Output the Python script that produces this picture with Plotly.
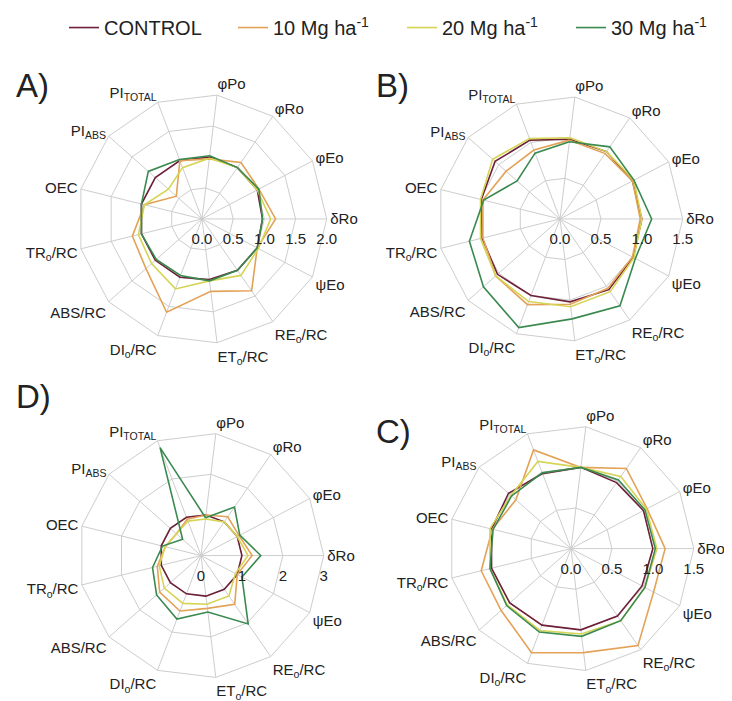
import plotly.graph_objects as go

categories = ["φPo", "φRo", "φEo", "δRo", "ψEo", "RE<sub>o</sub>/RC", "ET<sub>o</sub>/RC",
              "DI<sub>o</sub>/RC", "ABS/RC", "TR<sub>o</sub>/RC", "OEC", "PI<sub>ABS</sub>",
              "PI<sub>TOTAL</sub>"]
series_names = ["CONTROL", "10 Mg ha<sup>-1</sup>", "20 Mg ha<sup>-1</sup>", "30 Mg ha<sup>-1</sup>"]

# Panel A
a_control = [1.0, 1.0, 1.0, 0.97, 1.0, 1.0, 0.98, 1.0, 1.0, 1.0, 1.0, 1.0, 1.0]
a_mg10 = [0.97, 1.1, 1.03, 1.18, 1.0, 1.4, 1.17, 1.6, 1.2, 1.15, 0.95, 0.55, 1.0]
a_mg20 = [0.98, 1.0, 1.0, 1.1, 1.02, 1.1, 1.0, 1.2, 1.08, 1.05, 0.95, 0.72, 0.88]
a_mg30 = [1.02, 1.0, 1.03, 0.97, 1.0, 1.0, 1.0, 0.97, 0.98, 1.0, 1.0, 1.15, 1.02]
# Panel B
b_control = [0.98, 1.0, 1.0, 1.0, 1.01, 1.05, 1.02, 1.0, 1.02, 0.98, 0.99, 1.06, 1.03]
b_mg10 = [0.97, 0.97, 1.0, 0.98, 1.0, 1.03, 1.05, 1.12, 1.05, 0.97, 0.97, 0.88, 0.9]
b_mg20 = [1.0, 1.0, 1.02, 1.0, 1.02, 1.08, 1.08, 1.08, 1.05, 1.0, 1.0, 1.1, 1.05]
b_mg30 = [0.95, 1.07, 1.02, 1.12, 1.04, 1.29, 1.23, 1.42, 1.25, 1.14, 0.96, 0.7, 0.86]
# Panel C
c_control = [1.0, 0.98, 1.0, 1.0, 0.98, 1.0, 1.0, 1.0, 1.0, 1.0, 1.0, 1.02, 0.98]
c_mg10 = [1.0, 1.19, 1.05, 1.15, 1.14, 1.44, 1.28, 1.36, 1.14, 1.13, 0.99, 0.9, 1.29]
c_mg20 = [1.0, 1.07, 1.04, 1.05, 1.02, 1.07, 1.05, 1.07, 1.04, 1.02, 1.02, 0.98, 1.14]
c_mg30 = [1.0, 1.02, 1.02, 1.03, 1.02, 1.07, 1.08, 1.09, 1.05, 1.02, 0.98, 0.97, 0.99]
# Panel D
d_control = [1.0, 1.0, 1.0, 1.0, 1.0, 1.0, 1.0, 1.0, 1.0, 1.0, 1.0, 1.0, 1.0]
d_mg10 = [1.0, 1.15, 1.05, 1.25, 1.0, 1.45, 1.3, 1.45, 1.35, 1.1, 0.9, 0.8, 0.95]
d_mg20 = [0.9, 1.0, 1.0, 1.15, 0.95, 1.2, 1.2, 1.25, 1.2, 1.05, 0.9, 0.8, 0.9]
d_mg30 = [0.93, 1.44, 1.07, 1.46, 1.13, 2.03, 1.39, 1.66, 1.45, 1.22, 0.97, 0.6, 2.82]

a_ticks = [0, 0.5, 1.0, 1.5, 2.0]
a_ticktext = ["0.0", "0.5", "1.0", "1.5", "2.0"]
bc_ticks = [0, 0.5, 1.0, 1.5]
bc_ticktext = ["0.0", "0.5", "1.0", "1.5"]
d_ticks = [0, 1, 2, 3]
d_ticktext = ["0", "1", "2", "3"]

colors = ["#6e2038", "#e3a257", "#d6d455", "#3a8a50"]
FONT = "Liberation Sans, Arial, sans-serif"
W, H = 732, 701


def dom(cx, cy, r):
    return dict(x=[(cx - r) / W, (cx + r) / W], y=[1 - (cy + r) / H, 1 - (cy - r) / H])


panels = [
    ("polar", [a_control, a_mg10, a_mg20, a_mg30], a_ticks, a_ticktext, dom(194, 206, 126)),
    ("polar2", [b_control, b_mg10, b_mg20, b_mg30], bc_ticks, bc_ticktext, dom(552, 206, 124)),
    ("polar3", [d_control, d_mg10, d_mg20, d_mg30], d_ticks, d_ticktext, dom(193, 546, 124)),
    ("polar4", [c_control, c_mg10, c_mg20, c_mg30], bc_ticks, bc_ticktext, dom(563, 539, 124)),
]

fig = go.Figure()
layout_polars = {}
for pi, (pname, data, ticks, ticktext, dm) in enumerate(panels):
    for si, vals in enumerate(data):
        fig.add_trace(go.Scatterpolar(
            r=vals + vals[:1], theta=categories + categories[:1], mode="lines",
            line=dict(color=colors[si], width=1.6), name=series_names[si],
            legendgroup=series_names[si], showlegend=(pi == 0), subplot=pname))
    layout_polars[pname] = dict(
        domain=dm, bgcolor="white", gridshape="linear",
        radialaxis=dict(range=[0, ticks[-1]], tickvals=ticks, ticktext=ticktext,
                        angle=0, side="clockwise", showline=False,
                        ticks="outside", ticklen=7, tickcolor="rgba(0,0,0,0)",
                        gridcolor="#cdcdcd", gridwidth=1,
                        tickfont=dict(family=FONT, size=15, color="#222")),
        angularaxis=dict(direction="clockwise", rotation=360 / 13 * 3, ticks="",
                         showline=True, linecolor="#cdcdcd", gridcolor="#cdcdcd",
                         tickfont=dict(family=FONT, size=15, color="#222"),
                         categoryorder="array", categoryarray=categories),
    )

fig.update_layout(**layout_polars)

for txt, x, y in [("A)", 6, 51), ("B)", 366, 51), ("D)", 6, 365), ("C)", 366, 400)]:
    fig.add_annotation(text=txt, x=x / W, y=1 - y / H, xref="paper", yref="paper",
                       xanchor="left", yanchor="top", showarrow=False,
                       font=dict(family=FONT, size=33, color="#222"))

fig.update_layout(
    width=W, height=H, margin=dict(l=0, r=0, t=0, b=0),
    paper_bgcolor="white", plot_bgcolor="white",
    font=dict(family=FONT, color="#222"),
    legend=dict(orientation="h", x=0.082, y=1.01, xanchor="left", yanchor="top",
                font=dict(family=FONT, size=20, color="#222"),
                entrywidth=124, bgcolor="rgba(0,0,0,0)"),
)

fig.write_html("out.html")
